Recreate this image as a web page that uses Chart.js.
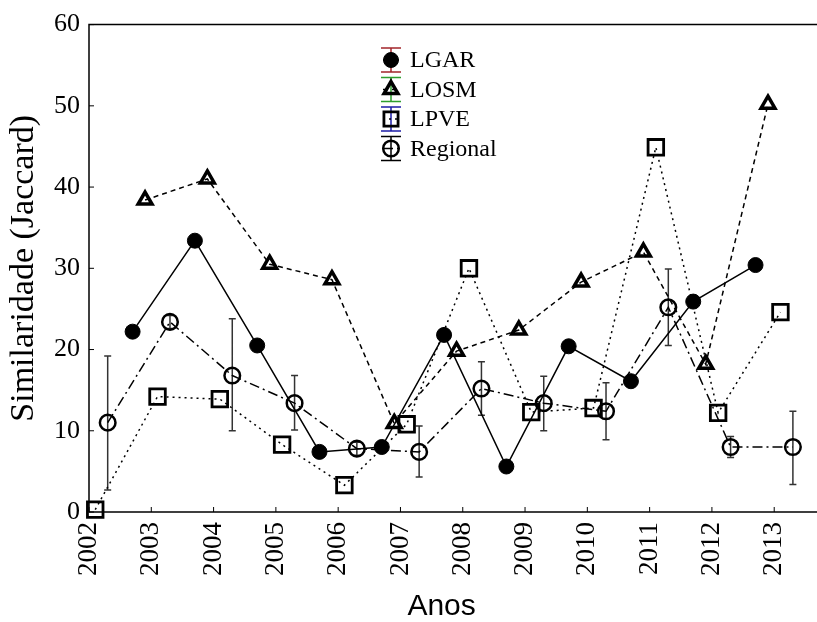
<!DOCTYPE html>
<html>
<head>
<meta charset="utf-8">
<script src="https://cdn.jsdelivr.net/npm/chart.js@4"></script>
<style>
  body { margin: 0; background: #fff; }
  #wrap { width: 817px; height: 622px; }
</style>
</head>
<body>
<div id="wrap"><canvas id="simChart"></canvas></div>
<script>
// Years on the x axis, one group of four points per year
const years = [2002, 2003, 2004, 2005, 2006, 2007, 2008, 2009, 2010, 2011, 2012, 2013];
const yTicks = [0, 10, 20, 30, 40, 50, 60];

// Jaccard similarity (%) per locality
const lgar = [null, 22.2, 33.4, 20.5, 7.4, 8.0, 21.8, 5.6, 20.4, 16.1, 25.9, 30.4];
const losm = [null, 38.4, 41.0, 30.5, 28.6, 10.9, 19.8, 22.4, 28.3, 32.0, 18.2, 50.2];
const lpve = [0.3, 14.2, 13.9, 8.3, 3.3, 10.8, 30.0, 12.3, 12.8, 44.9, 12.2, 24.6];
const regional = [11.0, 23.4, 16.8, 13.4, 7.8, 7.4, 15.2, 13.4, 12.4, 25.2, 8.0, 8.0];
const regionalLow = [2.7, 22.6, 10.0, 10.1, 7.0, 4.3, 11.9, 10.0, 8.9, 20.5, 6.7, 3.4];
const regionalHigh = [19.2, 24.2, 23.8, 16.8, 8.6, 10.6, 18.5, 16.7, 15.9, 29.9, 9.3, 12.4];

const serif = "'Liberation Serif', 'Times New Roman', serif";

function points(values, shift) {
    return years.map((yr, i) => ({ x: yr + shift, y: values[i] }));
}

const series = [
    { label: 'LGAR', values: lgar, shift: -0.3, style: 'circle', radius: 7.5, fill: '#000', bw: 1, dash: [], bar: '#a3262b' },
    { label: 'LOSM', values: losm, shift: -0.1, style: 'triangle', radius: 8, fill: 'rgba(0,0,0,0)', bw: 3.5, dash: [5, 4], bar: '#2e9e2e' },
    { label: 'LPVE', values: lpve, shift: 0.1, style: 'rect', radius: 11, fill: 'rgba(0,0,0,0)', bw: 2.8, dash: [2, 4], bar: '#1c1ca6' },
    { label: 'Regional', values: regional, shift: 0.3, style: 'circle', radius: 7.8, fill: 'rgba(0,0,0,0)', bw: 2.5, dash: [10, 4, 2, 4], bar: '#000' }
];

// frame with inward ticks
const framePlugin = {
    id: 'frame',
    beforeDatasetsDraw(chart) {
        const { ctx, chartArea: a, scales: { x, y } } = chart;
        ctx.save();
        ctx.strokeStyle = '#000';
        ctx.lineWidth = 1.5;
        ctx.beginPath();
        ctx.moveTo(chart.width, a.top);
        ctx.lineTo(a.left, a.top);
        ctx.lineTo(a.left, a.bottom);
        ctx.lineTo(chart.width, a.bottom);
        ctx.stroke();
        ctx.lineWidth = 1;
        ctx.beginPath();
        years.forEach(v => {
            const px = x.getPixelForValue(v);
            ctx.moveTo(px, a.bottom);
            ctx.lineTo(px, a.bottom - 5);
        });
        yTicks.forEach(v => {
            const py = y.getPixelForValue(v);
            ctx.moveTo(a.left, py);
            ctx.lineTo(a.left + 5, py);
        });
        ctx.stroke();

        // error bars of the regional series
        ctx.strokeStyle = '#333';
        ctx.lineWidth = 1.5;
        ctx.beginPath();
        years.forEach((yr, i) => {
            const px = x.getPixelForValue(yr + 0.3);
            const lo = y.getPixelForValue(regionalLow[i]);
            const hi = y.getPixelForValue(regionalHigh[i]);
            ctx.moveTo(px, lo); ctx.lineTo(px, hi);
            ctx.moveTo(px - 3.5, lo); ctx.lineTo(px + 3.5, lo);
            ctx.moveTo(px - 3.5, hi); ctx.lineTo(px + 3.5, hi);
        });
        ctx.stroke();
        ctx.restore();
    }
};

function marker(ctx, s, cx, cy) {
    ctx.save();
    ctx.lineWidth = s.bw;
    ctx.strokeStyle = '#000';
    ctx.fillStyle = s.fill;
    ctx.beginPath();
    if (s.style === 'circle') {
        ctx.arc(cx, cy, s.radius, 0, Math.PI * 2);
    } else if (s.style === 'rect') {
        const h = s.radius * Math.SQRT1_2;
        ctx.rect(cx - h, cy - h, 2 * h, 2 * h);
    } else {
        let r = 0;
        for (let k = 0; k < 3; k++) {
            const fx = cx + Math.sin(r) * s.radius, fy = cy - Math.cos(r) * s.radius;
            k === 0 ? ctx.moveTo(fx, fy) : ctx.lineTo(fx, fy);
            r += Math.PI * 2 / 3;
        }
        ctx.closePath();
    }
    ctx.fill();
    ctx.stroke();
    ctx.restore();
}

const legendPlugin = {
    id: 'boxLegend',
    afterDraw(chart) {
        const ctx = chart.ctx;
        const mx = 391, tx = 410;
        ctx.save();
        series.forEach((s, i) => {
            const cy = 60 + i * 29.5;
            ctx.strokeStyle = s.bar;
            ctx.lineWidth = 1.5;
            ctx.beginPath();
            ctx.moveTo(mx, cy - 12); ctx.lineTo(mx, cy + 12);
            ctx.moveTo(mx - 10, cy - 12); ctx.lineTo(mx + 10, cy - 12);
            ctx.moveTo(mx - 10, cy + 12); ctx.lineTo(mx + 10, cy + 12);
            ctx.stroke();
            ctx.strokeStyle = '#000';
            ctx.setLineDash(s.dash);
            ctx.beginPath();
            ctx.moveTo(mx - 8, cy); ctx.lineTo(mx + 8, cy);
            ctx.stroke();
            ctx.setLineDash([]);
            marker(ctx, Object.assign({}, s, { radius: s.style === 'rect' ? 10 : s.radius }), mx, cy);
            ctx.fillStyle = '#000';
            ctx.font = '24px ' + serif;
            ctx.textBaseline = 'middle';
            ctx.fillText(s.label, tx, cy + 1);
        });
        ctx.restore();
    }
};

const ctx = document.getElementById('simChart').getContext('2d');
const simChart = new Chart(ctx, {
    type: 'line',
    data: {
        datasets: series.map(s => ({
            label: s.label,
            data: points(s.values, s.shift),
            borderColor: '#000',
            borderWidth: 1.5,
            borderDash: s.dash,
            pointStyle: s.style,
            pointRadius: s.radius,
            pointBackgroundColor: s.fill,
            pointBorderColor: '#000',
            pointBorderWidth: s.bw,
            tension: 0,
            fill: false,
            clip: false
        }))
    },
    options: {
        responsive: true,
        maintainAspectRatio: false,
        animation: false,
        layout: { padding: { top: 21, right: 0, left: 0, bottom: 0 } },
        plugins: {
            legend: { display: false },
            tooltip: { enabled: false }
        },
        scales: {
            x: {
                type: 'linear',
                min: 2002,
                max: 2013.32,
                afterBuildTicks: scale => { scale.ticks = years.map(v => ({ value: v })); },
                afterFit: scale => { scale.height = 110; },
                grid: { display: false, drawTicks: false },
                border: { display: false },
                ticks: {
                    autoSkip: false,
                    minRotation: 90,
                    maxRotation: 90,
                    padding: 10,
                    color: '#000',
                    font: { family: serif, size: 27 },
                    callback: v => String(v)
                },
                title: {
                    display: true,
                    text: 'Anos',
                    color: '#000',
                    font: { family: "'Liberation Sans', Arial, sans-serif", size: 30, lineHeight: 1 },
                    padding: 0
                }
            },
            y: {
                min: 0,
                max: 60,
                afterBuildTicks: scale => { scale.ticks = yTicks.map(v => ({ value: v })); },
                afterFit: scale => { scale.width = 89; },
                grid: { display: false, drawTicks: false },
                border: { display: false },
                ticks: {
                    padding: 9,
                    color: '#000',
                    font: { family: serif, size: 26 }
                },
                title: {
                    display: true,
                    text: 'Similaridade (Jaccard)',
                    color: '#000',
                    font: { family: serif, size: 34, lineHeight: 1 },
                    padding: { top: 7, bottom: 0 }
                }
            }
        }
    },
    plugins: [framePlugin, legendPlugin]
});
</script>
</body>
</html>
